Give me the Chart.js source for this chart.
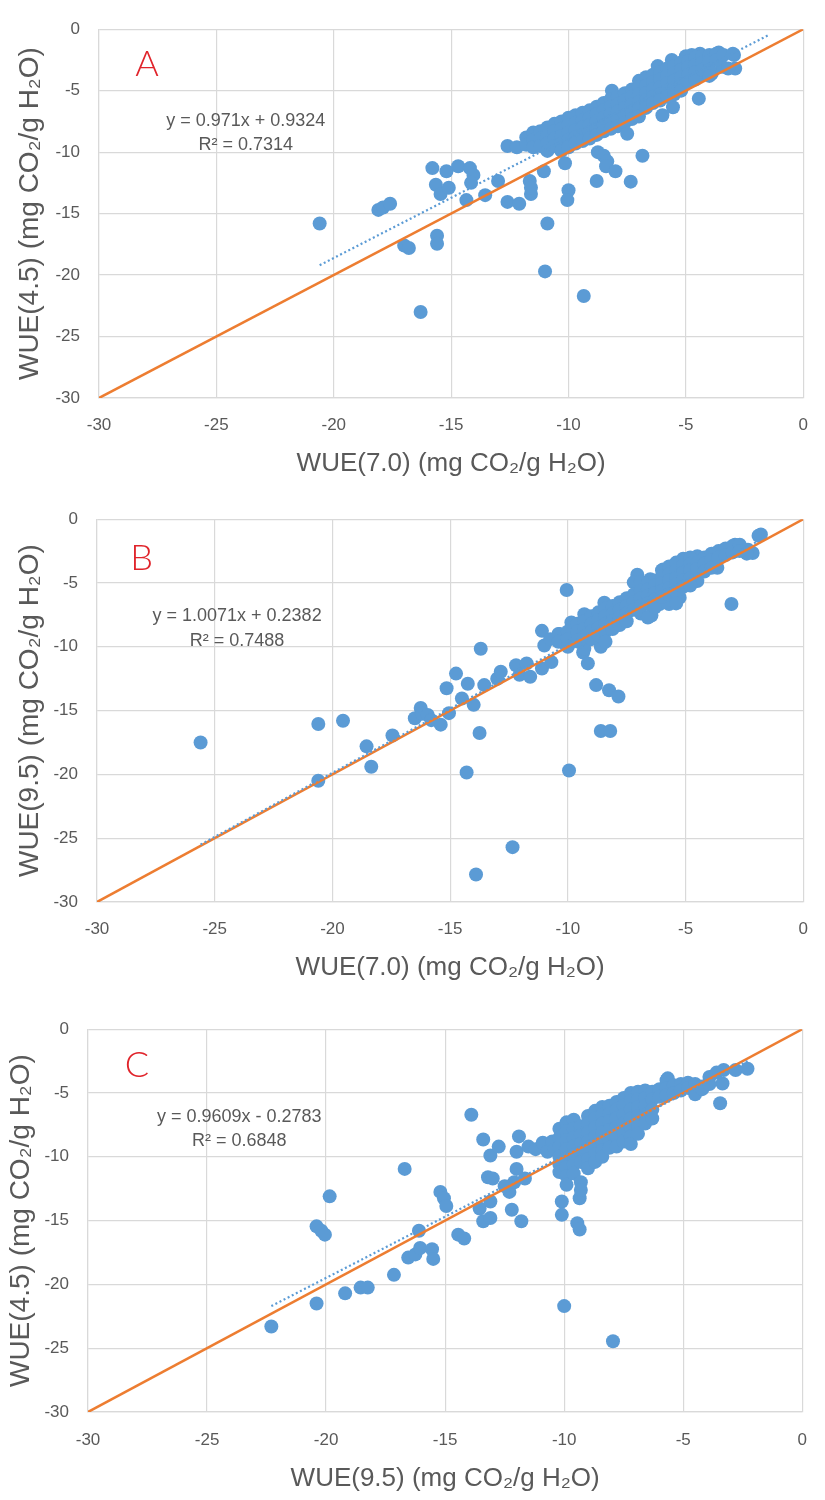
<!DOCTYPE html>
<html><head><meta charset="utf-8">
<script src="https://cdn.jsdelivr.net/npm/chart.js@4.4.1/dist/chart.umd.min.js"></script>
<style>
body{margin:0;background:#fff;width:825px;height:1500px;position:relative;overflow:hidden}
canvas{position:absolute;left:0}
</style></head><body>
<canvas id="cA" width="825" height="482" style="top:0px"></canvas>
<canvas id="cB" width="825" height="500" style="top:490px"></canvas>
<canvas id="cC" width="825" height="500" style="top:1000px"></canvas>
<script>
// ---------------- DATA ----------------
const axisTicks = [-30, -25, -20, -15, -10, -5, 0];
const identityLine = [[-30, -30], [0, 0]];

// Panel A: WUE(7.0) vs WUE(4.5)
const pointsA = [
[-20.6,-15.8],[-18.1,-14.7],[-17.9,-14.5],[-17.6,-14.2],[-17.0,-17.6],[-16.8,-17.8],[-16.3,-23.0],
[-15.8,-11.3],[-15.65,-12.65],[-15.45,-13.4],[-15.6,-16.8],[-15.6,-17.45],[-15.1,-12.9],[-15.2,-11.55],
[-14.7,-11.15],[-14.2,-11.3],[-14.05,-11.85],[-14.15,-12.5],[-14.35,-13.9],[-13.55,-13.5],[-13.0,-12.35],
[-12.6,-14.05],[-12.1,-14.2],[-11.65,-12.35],[-11.6,-13.4],[-11.6,-12.9],[-11.05,-11.55],[-10.9,-15.8],
[-11.0,-19.7],[-10.15,-10.9],[-10.0,-13.1],[-10.05,-13.9],[-9.35,-21.7],[-8.75,-10.0],[-8.5,-10.3],
[-8.35,-10.75],[-8.4,-11.15],[-8.0,-11.55],[-8.8,-12.35],[-7.35,-12.4],[-6.85,-10.3],[-12.6,-9.5],
[-12.2,-9.6],[-6.0,-7.0],[-5.55,-6.35],[-4.45,-5.65],[-4.3,-3.7],[-3.9,-3.6],[-3.45,-3.05],[-2.9,-3.2],
[-2.95,-2.1],[-3.6,-1.9],[-4.75,-2.1],[-6.2,-3.0],[-5.6,-2.5],[-5.0,-2.2],[-4.4,-2.0],
[-11.8,-8.8],[-11.8,-9.4],[-11.5,-8.4],[-11.5,-9.0],[-11.5,-9.6],[-11.2,-8.3],[-11.2,-8.9],[-11.2,-9.5],
[-10.9,-8.0],[-10.9,-8.7],[-10.9,-9.3],[-10.9,-9.9],[-10.6,-7.7],[-10.6,-8.3],[-10.6,-8.9],[-10.6,-9.5],
[-10.3,-7.5],[-10.3,-8.1],[-10.3,-8.7],[-10.3,-9.3],[-10.3,-9.9],[-10.0,-7.2],[-10.0,-7.8],[-10.0,-8.4],
[-10.0,-9.0],[-10.0,-9.6],[-9.7,-7.0],[-9.7,-7.6],[-9.7,-8.2],[-9.7,-8.8],[-9.7,-9.3],[-9.4,-6.8],
[-9.4,-7.4],[-9.4,-8.0],[-9.4,-8.6],[-9.4,-9.1],[-9.1,-6.6],[-9.1,-7.2],[-9.1,-7.8],[-9.1,-8.4],
[-9.1,-8.9],[-8.8,-6.3],[-8.8,-6.9],[-8.8,-7.5],[-8.8,-8.1],[-8.8,-8.6],[-8.5,-6.0],[-8.5,-6.6],
[-8.5,-7.2],[-8.5,-7.8],[-8.5,-8.3],[-8.15,-5.0],[-8.2,-5.7],[-8.2,-6.3],[-8.2,-6.9],[-8.2,-7.5],
[-8.2,-8.1],[-7.9,-5.5],[-7.9,-6.1],[-7.9,-6.7],[-7.9,-7.3],[-7.9,-7.9],[-7.6,-5.2],[-7.6,-5.8],
[-7.6,-6.4],[-7.6,-7.0],[-7.6,-7.6],[-7.5,-8.5],[-7.3,-4.9],[-7.3,-5.5],[-7.3,-6.1],[-7.3,-6.7],
[-7.3,-7.3],[-7.0,-4.2],[-7.0,-4.7],[-7.0,-5.3],[-7.0,-5.9],[-7.0,-6.5],[-7.0,-7.1],[-6.7,-3.9],
[-6.7,-4.6],[-6.7,-5.2],[-6.7,-5.8],[-6.7,-6.4],[-6.4,-3.7],[-6.4,-4.3],[-6.4,-4.9],[-6.4,-5.5],
[-6.4,-6.0],[-6.1,-3.5],[-6.1,-4.1],[-6.1,-4.7],[-6.1,-5.3],[-6.1,-5.8],[-5.8,-3.2],[-5.8,-3.8],
[-5.8,-4.4],[-5.8,-5.0],[-5.8,-5.5],[-5.5,-3.0],[-5.5,-3.6],[-5.5,-4.2],[-5.5,-4.8],[-5.5,-5.3],
[-5.2,-2.7],[-5.2,-3.3],[-5.2,-3.9],[-5.2,-4.5],[-5.2,-5.0],[-4.9,-2.6],[-4.9,-3.1],[-4.9,-3.7],
[-4.9,-4.3],[-4.6,-2.3],[-4.6,-2.9],[-4.6,-3.5],[-4.6,-4.1],[-4.3,-2.2],[-4.3,-2.7],[-4.3,-3.3],
[-4.0,-2.1],[-4.0,-2.6],[-4.0,-3.3],[-4.0,-3.8],[-3.7,-2.0],[-3.7,-2.5],[-3.4,-2.1],[-3.0,-2.0],[-3.2,-3.2]
];
const trendA = [[-20.6, -19.2], [-1.5, -0.5]];
const equationA = ["y = 0.971x + 0.9324", "R\u00B2 = 0.7314"];

// Panel B: WUE(7.0) vs WUE(9.5)
const pointsB = [
[-25.6,-17.5],[-20.6,-16.05],[-19.55,-15.8],[-20.6,-20.5],[-18.55,-17.8],[-18.35,-19.4],[-17.45,-16.95],
[-16.5,-15.6],[-16.25,-14.8],[-16.2,-15.25],[-15.95,-15.35],[-15.8,-15.75],[-15.4,-16.1],[-15.15,-13.25],
[-15.05,-15.2],[-14.75,-12.1],[-14.5,-14.05],[-14.25,-12.9],[-14.0,-14.55],[-14.3,-19.85],[-13.9,-27.85],
[-13.7,-10.15],[-13.75,-16.75],[-13.55,-13.0],[-13.0,-12.5],[-12.85,-11.95],[-12.35,-25.7],[-12.2,-11.45],
[-12.05,-12.2],[-11.75,-11.3],[-11.6,-12.35],[-11.1,-11.7],[-10.7,-11.2],[-11.1,-8.75],[-11.0,-9.9],
[-10.75,-9.4],[-10.05,-5.55],[-9.95,-19.7],[-10.35,-9.0],[-9.9,-9.65],[-9.45,-9.15],[-9.35,-10.45],
[-9.15,-11.3],[-9.3,-10.15],[-9.55,-9.6],[-8.6,-10.0],[-8.8,-13.0],[-8.25,-13.4],[-7.85,-13.9],
[-8.6,-16.6],[-8.2,-16.6],[-9.85,-8.1],[-9.3,-7.45],[-8.45,-6.55],[-6.45,-7.55],[-6.1,-6.65],
[-5.7,-6.65],[-5.25,-6.15],[-4.5,-4.85],[-3.65,-3.8],[-3.05,-6.65],[-1.8,-1.2],[-2.35,-2.4],
[-2.15,-2.65],[-2.9,-2.0],[-3.45,-2.5],[-4.5,-2.9],[-5.0,-3.15],[-7.05,-4.35],[-7.2,-4.95],
[-5.95,-3.95],[-5.4,-3.4],[-6.5,-4.7],
[-10.4,-9.0],[-10.4,-9.6],[-10.0,-8.8],[-10.0,-9.4],[-10.0,-10.0],[-9.6,-8.2],[-9.6,-8.8],[-9.6,-9.5],
[-9.3,-8.0],[-9.3,-8.6],[-9.3,-9.2],[-9.0,-7.6],[-9.0,-8.2],[-9.0,-8.8],[-9.0,-9.4],[-8.7,-7.3],
[-8.7,-7.9],[-8.7,-8.5],[-8.7,-9.1],[-8.4,-7.0],[-8.4,-7.6],[-8.4,-8.2],[-8.4,-8.8],[-8.4,-9.6],
[-8.1,-6.8],[-8.1,-7.4],[-8.1,-8.0],[-8.1,-8.6],[-7.8,-6.5],[-7.8,-7.1],[-7.8,-7.7],[-7.8,-8.3],
[-7.5,-6.2],[-7.5,-6.8],[-7.5,-7.4],[-7.5,-8.0],[-7.2,-5.9],[-7.2,-6.5],[-7.2,-7.1],[-6.9,-4.9],
[-6.9,-5.6],[-6.9,-6.2],[-6.9,-6.8],[-6.9,-7.4],[-6.6,-5.0],[-6.6,-5.5],[-6.6,-6.0],[-6.6,-6.6],
[-6.6,-7.7],[-6.3,-4.8],[-6.3,-5.2],[-6.3,-5.8],[-6.3,-6.3],[-6.3,-6.9],[-6.0,-4.0],[-6.0,-4.5],
[-6.0,-5.0],[-6.0,-5.6],[-6.0,-6.1],[-5.7,-3.7],[-5.7,-4.3],[-5.7,-4.8],[-5.7,-5.4],[-5.7,-5.9],
[-5.4,-3.5],[-5.4,-4.0],[-5.4,-4.6],[-5.4,-5.1],[-5.4,-5.7],[-5.4,-6.6],[-5.1,-3.1],[-5.1,-3.6],
[-5.1,-4.2],[-5.1,-4.8],[-5.1,-5.3],[-4.8,-3.0],[-4.8,-3.5],[-4.8,-4.0],[-4.8,-4.6],[-4.8,-5.2],
[-4.5,-3.4],[-4.5,-3.9],[-4.2,-3.0],[-4.2,-3.5],[-4.2,-4.1],[-3.9,-2.7],[-3.9,-3.2],[-3.9,-3.8],
[-3.6,-2.5],[-3.6,-3.0],[-3.3,-2.3],[-3.3,-2.8],[-3.0,-2.1],[-3.0,-2.6],[-2.7,-2.0],[-2.7,-2.5],
[-2.4,-2.7],[-1.9,-1.3]
];
const trendB = [[-25.6, -25.5], [-1.8, -1.6]];
const equationB = ["y = 1.0071x + 0.2382", "R\u00B2 = 0.7488"];

// Panel C: WUE(9.5) vs WUE(4.5)
const pointsC = [
[-22.3,-23.3],[-20.4,-21.5],[-19.2,-20.7],[-18.55,-20.25],[-18.25,-20.25],[-17.15,-19.25],[-20.4,-15.45],
[-20.2,-15.8],[-20.05,-16.1],[-19.85,-13.1],[-16.7,-10.95],[-16.55,-17.9],[-16.25,-17.65],[-16.05,-17.15],
[-16.1,-15.8],[-15.55,-17.25],[-15.5,-18.0],[-15.2,-12.75],[-15.05,-13.25],[-14.95,-13.85],[-14.45,-16.1],
[-14.2,-16.4],[-13.9,-6.7],[-13.4,-8.65],[-13.4,-15.05],[-13.55,-14.05],[-13.2,-11.6],[-13.0,-11.7],
[-13.1,-9.9],[-12.75,-9.2],[-13.1,-13.5],[-13.1,-14.8],[-12.3,-12.75],[-12.1,-12.0],[-12.2,-14.15],
[-12.0,-9.6],[-11.9,-8.4],[-11.8,-15.05],[-12.0,-10.95],[-11.65,-11.7],[-12.5,-12.3],[-10.1,-13.5],
[-10.1,-14.55],[-10.0,-21.7],[-9.35,-13.25],[-9.45,-15.2],[-9.35,-15.7],[-7.95,-24.45],[-3.45,-5.8],
[-3.35,-4.25],[-2.8,-3.2],[-2.3,-3.1],[-4.2,-4.5],[-3.9,-3.75],[-5.65,-3.85],
[-11.5,-9.2],[-11.2,-9.4],[-10.9,-8.9],[-10.7,-9.6],[-10.5,-8.8],[-10.4,-9.4],
[-10.2,-7.8],[-10.2,-8.5],[-10.2,-9.2],[-10.2,-10.0],[-10.2,-10.6],[-10.2,-11.2],
[-9.9,-7.3],[-9.9,-8.0],[-9.9,-8.7],[-9.9,-9.4],[-9.9,-10.1],[-9.9,-10.8],[-9.9,-11.5],[-9.9,-12.2],
[-9.6,-7.1],[-9.6,-7.8],[-9.6,-8.5],[-9.6,-9.2],[-9.6,-9.9],[-9.6,-10.6],[-9.6,-11.3],
[-9.3,-7.6],[-9.3,-8.3],[-9.3,-9.0],[-9.3,-9.7],[-9.3,-10.4],[-9.3,-12.0],[-9.3,-12.6],
[-9.0,-6.8],[-9.0,-7.4],[-9.0,-8.1],[-9.0,-8.8],[-9.0,-9.5],[-9.0,-10.2],[-9.0,-10.9],
[-8.7,-6.4],[-8.7,-7.0],[-8.7,-7.7],[-8.7,-8.4],[-8.7,-9.1],[-8.7,-9.8],[-8.7,-10.4],
[-8.4,-6.1],[-8.4,-6.7],[-8.4,-7.4],[-8.4,-8.1],[-8.4,-8.8],[-8.4,-9.5],[-8.4,-10.0],
[-8.1,-6.0],[-8.1,-6.6],[-8.1,-7.2],[-8.1,-7.9],[-8.1,-8.6],[-8.1,-9.3],
[-7.8,-5.7],[-7.8,-6.3],[-7.8,-7.0],[-7.8,-7.7],[-7.8,-8.4],[-7.8,-9.2],
[-7.5,-5.4],[-7.5,-6.0],[-7.5,-6.7],[-7.5,-7.4],[-7.5,-8.1],[-7.5,-8.8],
[-7.2,-5.0],[-7.2,-5.6],[-7.2,-6.3],[-7.2,-7.0],[-7.2,-7.7],[-7.2,-8.4],[-7.2,-9.0],
[-6.9,-4.9],[-6.9,-5.5],[-6.9,-6.1],[-6.9,-6.8],[-6.9,-7.5],[-6.9,-8.2],
[-6.6,-4.8],[-6.6,-5.4],[-6.6,-6.0],[-6.6,-6.7],[-6.6,-7.4],
[-6.3,-4.9],[-6.3,-5.5],[-6.3,-6.3],[-6.3,-7.0],[-6.0,-4.7],[-6.0,-5.3],
[-5.7,-4.0],[-5.7,-4.6],[-5.7,-5.2],[-5.4,-4.4],[-5.4,-5.0],[-5.1,-4.3],[-5.1,-4.8],
[-4.8,-4.2],[-4.8,-4.6],[-4.5,-4.3],[-4.5,-4.9],[-4.5,-5.1],[-4.2,-4.7],[-3.9,-4.3],
[-3.6,-3.4],[-3.3,-3.2]
];
const trendC = [[-22.3, -21.7], [-2.3, -2.5]];
const equationC = ["y = 0.9609x - 0.2783", "R\u00B2 = 0.6848"];

const xTitles = ["WUE(7.0) (mg CO\u2082/g H\u2082O)", "WUE(7.0) (mg CO\u2082/g H\u2082O)", "WUE(9.5) (mg CO\u2082/g H\u2082O)"];
const yTitles = ["WUE(4.5) (mg CO\u2082/g H\u2082O)", "WUE(9.5) (mg CO\u2082/g H\u2082O)", "WUE(4.5) (mg CO\u2082/g H\u2082O)"];
const panelLetters = ["A", "B", "C"];

// ---------------- LAYOUT / STYLE ----------------
const BLUE = '#5B9BD5', ORANGE = '#ED7D31', GREY = '#595959', GRID = '#d9d9d9';
const panels = [
  {canvas:'cA', points:pointsA, trend:trendA, eq:equationA, letter:panelLetters[0], xTitle:xTitles[0], yTitle:yTitles[0],
   left:99, right:816, top:16, bottom:398, h:482, yTitlePad:13, xTitlePad:3, tickPadX:17,
   letterPos:[-27.95,-2.9], eqPos:[-23.75,-7.45], eqGap:-1.95},
  {canvas:'cB', points:pointsB, trend:trendB, eq:equationB, letter:panelLetters[1], xTitle:xTitles[1], yTitle:yTitles[1],
   left:97, right:816, top:26, bottom:412, h:500, yTitlePad:13, xTitlePad:7, tickPadX:17,
   letterPos:[-28.1,-3.05], eqPos:[-24.05,-7.6], eqGap:-1.95},
  {canvas:'cC', points:pointsC, trend:trendC, eq:equationC, letter:panelLetters[2], xTitle:xTitles[2], yTitle:yTitles[2],
   left:88, right:812, top:25, bottom:412, h:500, yTitlePad:4, xTitlePad:6, tickPadX:18,
   letterPos:[-27.95,-2.8], eqPos:[-23.65,-6.85], eqGap:-1.95}
];

const toXY = arr => arr.map(p => ({x:p[0], y:p[1]}));

const annotationPlugin = {
  id:'annot',
  afterDatasetsDraw(chart, args, opts) {
    const {ctx, scales:{x, y}} = chart;
    ctx.save();
    ctx.textAlign = 'center';
    ctx.textBaseline = 'middle';
    ctx.fillStyle = '#E0242B';
    ctx.font = '300 36px "Lato", "Liberation Sans", sans-serif';
    ctx.fillText(opts.letter, x.getPixelForValue(opts.letterPos[0]), y.getPixelForValue(opts.letterPos[1]));
    ctx.fillStyle = GREY;
    ctx.font = '18px "Liberation Sans", Arial, sans-serif';
    opts.eq.forEach((line, i) => {
      ctx.fillText(line, x.getPixelForValue(opts.eqPos[0]), y.getPixelForValue(opts.eqPos[1] + i * opts.eqGap));
    });
    ctx.restore();
  }
};

panels.forEach(p => {
  new Chart(document.getElementById(p.canvas), {
    type: 'scatter',
    data: {
      datasets: [
        {type:'line', data: toXY(p.trend), borderColor: BLUE, borderWidth: 2.2, borderDash:[2,2.6],
         pointRadius:0, fill:false, order:1},
        {type:'line', data: toXY(identityLine), borderColor: ORANGE, borderWidth: 2.5,
         pointRadius:0, fill:false, order:2},
        {data: toXY(p.points), backgroundColor: BLUE, borderWidth:0, pointRadius:7, pointHoverRadius:7, order:3}
      ]
    },
    options: {
      responsive:false, animation:false, events:[],
      layout:{padding:{left:0, right:825 - p.right, top:p.top, bottom:0}},
      plugins:{legend:{display:false}, tooltip:{enabled:false},
        annot:{letter:p.letter, letterPos:p.letterPos, eq:p.eq, eqPos:p.eqPos, eqGap:p.eqGap}},
      scales:{
        x:{type:'linear', min:-30, max:0,
           afterBuildTicks: s => { s.ticks = axisTicks.map(v => ({value:v})); },
           afterFit: s => { s.height = p.h - p.bottom; },
           grid:{color:GRID, lineWidth:1.2, drawTicks:false},
           border:{color:GRID, width:1.2},
           ticks:{color:GREY, padding:p.tickPadX, font:{family:'"Liberation Sans", Arial, sans-serif', size:17}},
           title:{display:true, text:p.xTitle, color:GREY, padding:{top:0, bottom:p.xTitlePad},
                  font:{family:'"Liberation Sans", Arial, sans-serif', size:26}}},
        y:{type:'linear', min:-30, max:0,
           afterBuildTicks: s => { s.ticks = axisTicks.map(v => ({value:v})); },
           afterFit: s => { s.width = p.left; },
           grid:{color:GRID, lineWidth:1.2, drawTicks:false},
           border:{color:GRID, width:1.2},
           ticks:{color:GREY, padding:19, font:{family:'"Liberation Sans", Arial, sans-serif', size:17}},
           title:{display:true, text:p.yTitle, color:GREY, padding:{top:p.yTitlePad, bottom:0},
                  font:{family:'"Liberation Sans", Arial, sans-serif', size:28}}}
      }
    },
    plugins:[annotationPlugin]
  });
});
</script>
</body></html>
